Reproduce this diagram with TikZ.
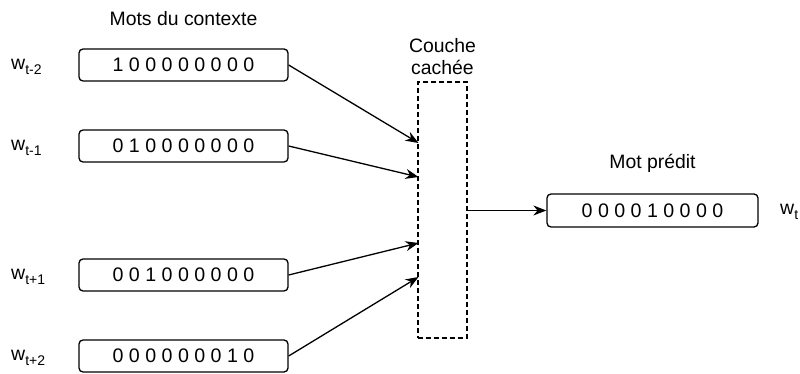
\documentclass[tikz,border=0pt]{standalone}
\usepackage{fontspec}
\setmainfont{Liberation Sans}
\usetikzlibrary{arrows.meta}
\newcommand{\wsub}[1]{w\raisebox{-5.5pt}{\fontsize{14}{14}\selectfont #1}}
\begin{document}
\begin{tikzpicture}[x=1pt,y=-1pt,
  vecbox/.style={draw,line width=1.3pt,rounded corners=4pt,minimum width=209pt,minimum height=32pt,inner sep=0pt,font=\fontsize{19.6}{20}\selectfont},
  lbl/.style={font=\fontsize{19.4}{22}\selectfont,inner sep=0pt},
  wlbl/.style={font=\fontsize{19.5}{20}\selectfont,inner sep=0pt,anchor=west},
  arr/.style={line width=1.3pt,-{Stealth[length=13pt,width=10pt]}}]
\useasboundingbox (0,0) rectangle (800,374);
\node[vecbox] (b1) at (183.5,65) {1 0 0 0 0 0 0 0 0};
\node[vecbox] (b2) at (183.5,146) {0 1 0 0 0 0 0 0 0};
\node[vecbox] (b3) at (183.5,275) {0 0 1 0 0 0 0 0 0};
\node[vecbox] (b4) at (183.5,356) {0 0 0 0 0 0 0 1 0};
\node[wlbl] (w1) at (11,67) {\wsub{t-2}};
\node[wlbl] (w2) at (11,148) {\wsub{t-1}};
\node[wlbl] (w3) at (11,277) {\wsub{t+1}};
\node[wlbl] (w4) at (11,358) {\wsub{t+2}};
\node[lbl] (ctx) at (183.5,18.5) {Mots du contexte};
\node[draw,dash pattern=on 5pt off 3pt,line width=1.3pt,minimum width=49pt,minimum height=256pt,inner sep=0pt] (h) at (442.5,210) {};
\node[lbl,align=center] (hl) at (442.5,57) {Couche\\cachée};
\node[vecbox,minimum width=211pt,minimum height=33pt] (out) at (652.5,210.5) {0 0 0 0 1 0 0 0 0};
\node[lbl] (ml) at (652.5,163) {Mot prédit};
\node[wlbl] (wt) at (780,212) {\wsub{t}};
\coordinate (t1) at (418.5,143);
\coordinate (t2) at (418.5,177);
\coordinate (t3) at (418.5,243);
\coordinate (t4) at (418.5,277);
\draw[arr] (b1.east) -- (t1);
\draw[arr] (b2.east) -- (t2);
\draw[arr] (b3.east) -- (t3);
\draw[arr] (b4.east) -- (t4);
\draw[arr] (h.east |- out.west) -- (out.west);
\end{tikzpicture}
\end{document}
